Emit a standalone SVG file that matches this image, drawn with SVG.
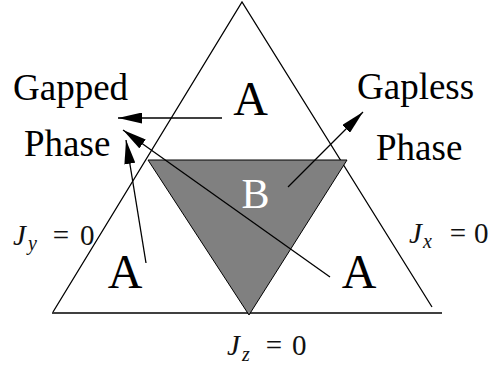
<svg xmlns="http://www.w3.org/2000/svg" width="491" height="365" viewBox="0 0 491 365">
<defs>
<marker id="ah" markerUnits="userSpaceOnUse" markerWidth="24" markerHeight="11" refX="24" refY="5.5" orient="auto" viewBox="0 0 24 11">
<path d="M0,0 L24,5.5 L0,11 Z" fill="#000"/>
</marker>
</defs>
<g id="outer-triangle" fill="none" stroke="#000" stroke-width="1.3">
<path d="M53,312 L242,2 L432,307"/>
<line x1="52" y1="313" x2="442" y2="313"/>
</g>
<g id="region-B">
<polygon points="148,160 347,160 249,315" fill="#808080" stroke="#000" stroke-width="1"/>
<text style="font-family:'Liberation Serif',serif;font-size:42px" fill="#fff" text-anchor="middle" x="255.5" y="208">B</text>
</g>
<g id="region-A-top"><text style="font-family:'Liberation Serif',serif;font-size:48px" text-anchor="middle" x="250.5" y="115">A</text></g>
<g id="region-A-left"><text style="font-family:'Liberation Serif',serif;font-size:48px" text-anchor="middle" x="125" y="288">A</text></g>
<g id="region-A-right"><text style="font-family:'Liberation Serif',serif;font-size:48px" text-anchor="middle" x="359" y="288">A</text></g>
<g id="label-gapped"><text style="font-family:'Liberation Serif',serif;font-size:37px" x="13" y="100">Gapped</text><text style="font-family:'Liberation Serif',serif;font-size:37px" x="24" y="156">Phase</text></g>
<g id="label-gapless"><text style="font-family:'Liberation Serif',serif;font-size:37px" x="357" y="99">Gapless</text><text style="font-family:'Liberation Serif',serif;font-size:37px" x="376" y="160">Phase</text></g>
<g id="label-Jy" fill="#111">
<text style="font-family:'Liberation Serif',serif;font-size:29px;font-style:italic" x="13" y="245">J</text><text style="font-family:'Liberation Serif',serif;font-size:20px;font-style:italic" x="28" y="250">y</text>
<text style="font-family:'Liberation Serif',serif;font-size:29px" text-anchor="middle" x="61" y="245">=</text><text style="font-family:'Liberation Serif',serif;font-size:29px" x="80" y="245">0</text>
</g>
<g id="label-Jx" fill="#111">
<text style="font-family:'Liberation Serif',serif;font-size:29px;font-style:italic" x="409" y="243">J</text><text style="font-family:'Liberation Serif',serif;font-size:20px;font-style:italic" x="423" y="248">x</text>
<text style="font-family:'Liberation Serif',serif;font-size:29px" text-anchor="middle" x="458" y="243">=</text><text style="font-family:'Liberation Serif',serif;font-size:29px" x="474" y="243">0</text>
</g>
<g id="label-Jz" fill="#111">
<text style="font-family:'Liberation Serif',serif;font-size:29px;font-style:italic" x="227" y="355">J</text><text style="font-family:'Liberation Serif',serif;font-size:20px;font-style:italic" x="242" y="361">z</text>
<text style="font-family:'Liberation Serif',serif;font-size:29px" text-anchor="middle" x="274" y="355">=</text><text style="font-family:'Liberation Serif',serif;font-size:29px" x="292" y="355">0</text>
</g>
<g id="connectors" fill="none" stroke="#000" stroke-width="1.3" marker-end="url(#ah)">
<line x1="222" y1="118" x2="118" y2="118"/>
<line x1="146" y1="263" x2="126" y2="140"/>
<line x1="330" y1="277" x2="123" y2="130"/>
<line x1="288" y1="187" x2="363" y2="112"/>
</g>
</svg>
